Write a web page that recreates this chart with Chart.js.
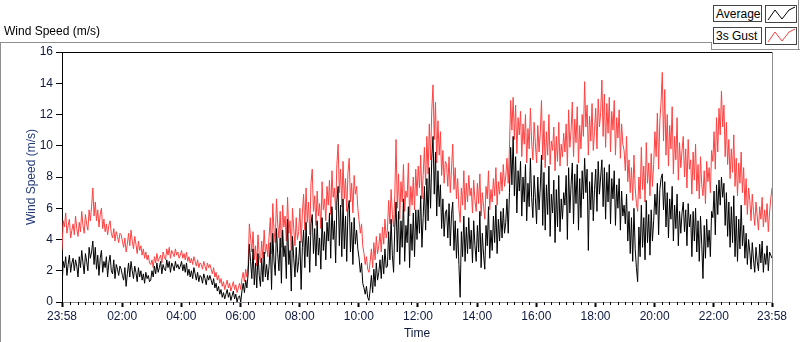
<!DOCTYPE html>
<html>
<head>
<meta charset="utf-8">
<script src="https://cdn.jsdelivr.net/npm/chart.js@4.4.1/dist/chart.umd.min.js"></script>
<style>
  html, body { margin: 0; padding: 0; background: #fff; }
  #wrap { position: relative; width: 800px; height: 342px; overflow: hidden; font-family: "Liberation Sans", Arial, sans-serif; }
  #chart { position: absolute; left: 0; top: 0; }
  .line { position: absolute; background: #8e8e8e; }
  #topLabel { position: absolute; left: 4px; top: 24px; font-size: 12px; color: #000; }
  .lgText { position: absolute; left: 713px; width: 49px; height: 17px; border: 1px solid #444; background: #fff; font-size: 12px; line-height: 16px; padding-left: 2px; box-sizing: border-box; }
  .lgIcon { position: absolute; left: 765px; width: 32px; height: 18px; border: 1px solid #444; background: #fff; box-sizing: border-box; }
</style>
</head>
<body>
<div id="wrap">
  <canvas id="chart" width="800" height="342"></canvas>
  <div class="line" style="left:0;top:42px;width:712px;height:1px;"></div>
  <div class="line" style="left:0;top:42px;width:1px;height:300px;"></div>
  <div class="line" style="left:711px;top:42px;width:1px;height:8px;"></div>
  <div class="line" style="left:711px;top:49px;width:89px;height:1px;"></div>
  <div class="line" style="left:798px;top:0;width:1px;height:50px;"></div>
  <div id="topLabel">Wind Speed (m/s)</div>
  <div class="lgText" style="top:5px;">Average</div>
  <div class="lgIcon" style="top:5px;"><svg width="30" height="16"><polyline points="2,14 9,4 16,13 23,4 29,1" fill="none" stroke="#000" stroke-width="1"/></svg></div>
  <div class="lgText" style="top:27px;">3s Gust</div>
  <div class="lgIcon" style="top:27px;"><svg width="30" height="16"><polyline points="2,14 9,4 16,13 23,4 29,1" fill="none" stroke="#ff4040" stroke-width="1"/></svg></div>
</div>
<script>
// one sample every 2.5 minutes, starting 23:58 (-2 min), one row per hour
const startMinute = -2;
const stepMinutes = 2.5;

const avgSpeed = [
  0.9, 2.6, 2.2, 2.9, 1.7, 2.4, 3.0, 1.9, 2.5, 2.8, 2.0, 2.7, 2.3, 1.6, 2.9, 2.2, 3.3, 2.5, 1.8, 3.1, 2.6, 2.0, 3.5, 2.8,
  3.2, 3.9, 2.4, 3.5, 2.1, 3.0, 1.7, 2.8, 3.3, 1.9, 2.6, 2.2, 2.9, 1.6, 2.5, 3.0, 2.0, 1.8, 2.7, 1.5, 2.4, 2.1, 1.7, 2.3,
  2.1, 1.7, 1.4, 2.2, 1.0, 1.8, 2.5, 1.6, 2.6, 2.0, 1.5, 2.3, 1.9, 1.3, 2.2, 1.6, 2.0, 1.4, 1.8, 1.2, 1.9, 1.5, 1.7, 1.3,
  1.4, 2.0, 1.6, 2.3, 1.8, 2.5, 1.9, 2.2, 2.6, 1.8, 2.4, 2.1, 2.0, 2.7, 2.2, 2.6, 1.9, 2.5, 2.3, 2.0, 2.6, 2.2, 2.4, 2.1,
  2.3, 2.6, 2.0, 2.4, 1.9, 2.5, 1.7, 2.1, 1.6, 2.0, 1.5, 2.2, 1.8, 1.4, 1.9, 1.3, 1.7, 1.6, 1.2, 1.8, 1.5, 1.1, 1.7, 1.4,
  1.7, 1.4, 1.1, 1.5, 0.9, 1.2, 0.7, 1.0, 0.5, 0.8, 0.3, 0.6, 0.2, 0.5, 0.8, 0.3, 0.6, 0.1, 0.4, 0.7, 0.2, 0.5, 0.0, 0.3,
  0.4, 0.0, 0.7, 1.2, 0.6, 1.4, 0.9, 1.8, 3.7, 2.6, 1.5, 3.4, 1.1, 2.5, 0.9, 3.1, 1.7, 1.0, 2.8, 1.3, 3.2, 1.6, 2.4, 1.4,
  2.3, 3.8, 0.8, 4.4, 2.6, 1.7, 4.7, 3.1, 2.0, 4.1, 1.2, 4.6, 2.9, 3.6, 1.5, 5.3, 2.4, 3.3, 0.7, 4.2, 2.8, 1.6, 3.5, 1.9,
  2.6, 3.9, 0.8, 3.5, 4.6, 2.2, 5.1, 2.9, 4.2, 1.9, 5.0, 5.6, 3.1, 4.7, 2.3, 5.2, 3.0, 4.1, 2.1, 5.4, 3.3, 4.5, 2.7, 5.1,
  3.9, 5.7, 2.8, 6.1, 4.0, 5.2, 2.5, 6.4, 7.4, 3.6, 6.2, 2.9, 6.6, 3.4, 5.5, 2.6, 5.9, 6.5, 3.2, 5.1, 2.4, 5.4, 3.7, 4.6,
  3.4, 2.8, 1.9, 2.5, 1.2, 0.9, 0.5, 1.0, 0.3, 0.1, 0.8, 1.7, 0.6, 2.1, 1.0, 2.5, 1.4, 1.9, 2.7, 1.5, 3.0, 1.8, 3.4, 2.2,
  2.3, 4.5, 2.7, 5.3, 3.0, 1.9, 4.8, 6.4, 3.2, 5.8, 2.4, 5.2, 3.5, 6.6, 2.6, 4.9, 3.8, 6.1, 2.2, 5.0, 3.3, 5.7, 2.9, 5.9,
  4.0, 5.9, 4.4, 6.8, 3.5, 5.4, 7.4, 4.6, 7.9, 5.2, 8.6, 6.0, 9.2, 10.6, 6.9, 9.6, 5.5, 8.4, 6.1, 7.5, 4.7, 6.6, 4.2, 5.7,
  5.9, 4.1, 6.3, 3.6, 5.6, 6.4, 3.3, 5.2, 2.8, 4.7, 2.4, 0.3, 4.5, 2.9, 5.5, 2.6, 4.8, 3.1, 5.4, 3.4, 4.6, 2.5, 5.2, 3.6,
  2.6, 4.9, 3.2, 5.8, 2.2, 4.4, 3.0, 2.1, 4.9, 3.6, 6.1, 2.8, 4.6, 3.3, 5.5, 3.8, 6.2, 3.1, 5.3, 3.9, 5.8, 4.1, 6.0, 4.4,
  5.1, 6.6, 4.4, 7.0, 9.9, 7.5, 10.6, 6.8, 9.3, 5.7, 8.4, 7.1, 9.0, 5.5, 8.0, 6.4, 8.8, 5.2, 7.6, 6.1, 9.2, 6.7, 5.4, 8.1,
  6.7, 5.0, 8.0, 5.9, 7.3, 9.4, 4.9, 8.3, 4.6, 7.5, 5.6, 8.7, 4.2, 6.9, 5.7, 7.8, 3.8, 7.2, 4.8, 8.1, 4.5, 6.6, 5.3, 7.0,
  6.2, 8.1, 4.0, 8.6, 5.7, 7.5, 8.9, 5.0, 8.2, 6.3, 8.8, 4.6, 7.9, 5.4, 8.4, 6.6, 9.2, 7.0, 8.5, 3.3, 7.7, 5.9, 8.3, 5.2,
  7.2, 8.5, 5.8, 9.0, 6.9, 8.0, 9.1, 6.1, 8.6, 5.3, 8.3, 6.4, 8.8, 5.0, 7.9, 6.6, 8.4, 4.9, 7.5, 6.0, 7.9, 4.6, 7.1, 5.5,
  6.2, 5.0, 6.9, 3.9, 5.8, 3.1, 5.4, 2.6, 6.0, 3.4, 2.2, 1.3, 4.8, 2.9, 6.2, 3.5, 5.4, 2.7, 6.5, 3.8, 5.6, 3.0, 5.9, 3.9,
  5.2, 6.9, 5.6, 7.6, 4.3, 7.2, 7.9, 8.2, 5.9, 7.7, 4.8, 7.0, 4.1, 6.6, 5.3, 7.4, 3.9, 6.2, 4.7, 6.9, 3.6, 5.8, 4.4, 5.7,
  6.4, 4.5, 5.9, 3.6, 6.3, 4.8, 5.6, 2.9, 5.8, 3.9, 6.0, 3.2, 5.2, 2.6, 5.5, 3.7, 1.5, 4.9, 2.8, 5.3, 3.5, 4.6, 2.9, 5.8,
  5.4, 7.1, 4.3, 7.5, 5.6, 7.8, 6.2, 8.0, 6.7, 7.6, 4.9, 7.0, 4.2, 6.4, 3.5, 6.1, 3.8, 6.8, 2.9, 5.5, 2.6, 5.3, 3.4, 6.2,
  3.6, 4.9, 2.8, 4.4, 2.4, 4.0, 3.2, 2.1, 3.8, 2.7, 1.9, 3.5, 2.6, 2.0, 3.7, 2.5, 3.9, 1.9, 3.1, 2.4, 3.6, 2.0, 3.2, 3.0, 2.8
];

const gustSpeed = [
  3.3, 5.2, 4.8, 5.7, 4.4, 4.9, 5.3, 4.1, 4.6, 5.0, 4.3, 5.5, 4.7, 4.2, 5.1, 4.5, 5.8, 4.9, 4.4, 5.6, 5.0, 4.6, 5.9, 5.2,
  6.1, 7.3, 5.5, 6.4, 5.2, 5.9, 4.8, 5.6, 6.0, 4.7, 5.3, 4.5, 5.0, 4.3, 4.9, 5.2, 4.4, 4.1, 4.7, 3.9, 4.5, 4.2, 3.8, 4.4,
  4.3, 3.9, 3.5, 4.1, 3.2, 3.7, 4.4, 3.6, 4.6, 3.9, 3.4, 4.2, 3.7, 3.1, 3.9, 3.3, 3.6, 3.0, 3.4, 2.8, 3.2, 2.7, 3.0, 2.5,
  2.4, 2.7, 2.2, 2.9, 2.5, 3.1, 2.6, 2.8, 3.0, 2.5, 3.2, 2.9, 2.7, 3.4, 3.0, 3.5, 2.8, 3.3, 3.1, 2.9, 3.4, 3.0, 3.2, 2.8,
  3.0, 3.3, 2.8, 3.1, 2.7, 3.2, 2.6, 2.9, 2.5, 2.8, 2.4, 2.9, 2.6, 2.3, 2.7, 2.2, 2.5, 2.4, 2.1, 2.6, 2.3, 2.0, 2.5, 2.2,
  2.4, 2.1, 1.8, 2.2, 1.6, 1.9, 1.4, 1.7, 1.2, 1.5, 1.0, 1.3, 0.8, 1.1, 1.4, 0.9, 1.2, 0.7, 1.0, 1.3, 0.8, 1.1, 0.6, 0.9,
  1.2, 0.8, 1.5, 1.9, 1.3, 2.1, 1.6, 2.4, 5.0, 4.1, 3.2, 4.5, 2.7, 3.6, 2.3, 4.3, 3.0, 2.5, 3.9, 2.8, 4.6, 3.1, 3.7, 2.9,
  4.2, 5.4, 3.1, 6.3, 4.6, 3.8, 6.6, 5.0, 4.1, 5.8, 3.5, 6.2, 4.8, 5.5, 3.9, 6.7, 4.4, 5.2, 3.3, 6.0, 4.7, 3.6, 5.4, 4.0,
  4.5, 6.0, 3.8, 5.7, 6.9, 4.6, 7.3, 5.1, 6.4, 4.3, 7.6, 8.5, 5.8, 6.8, 4.9, 7.1, 5.5, 6.3, 4.7, 7.7, 5.9, 6.6, 5.2, 7.4,
  6.2, 7.8, 5.6, 8.4, 6.7, 7.3, 5.9, 8.8, 10.1, 7.0, 8.5, 6.1, 9.0, 6.6, 7.9, 5.8, 8.3, 9.2, 6.4, 7.6, 5.7, 8.1, 6.9, 7.4,
  6.0, 5.2, 4.4, 5.0, 3.6, 3.1, 2.4, 2.9, 2.1, 1.9, 2.6, 3.4, 2.2, 3.8, 2.7, 4.2, 3.1, 3.6, 4.4, 3.2, 4.8, 3.7, 5.3, 4.1,
  4.6, 6.5, 5.0, 7.2, 5.6, 4.8, 6.9, 10.4, 6.0, 8.2, 5.3, 7.7, 6.4, 8.8, 5.8, 7.1, 6.7, 8.9, 5.5, 7.4, 6.2, 8.0, 5.9, 8.5,
  6.8, 8.7, 7.3, 9.4, 6.6, 8.1, 9.9, 7.5, 10.6, 8.2, 11.4, 9.1, 12.3, 13.9, 10.4, 12.8, 8.9, 11.6, 9.4, 10.9, 8.1, 9.7, 7.6, 9.0,
  8.8, 7.4, 9.3, 7.0, 8.5, 10.1, 7.2, 8.6, 6.6, 7.9, 6.0, 5.1, 7.3, 6.2, 8.4, 5.9, 7.6, 6.4, 8.1, 6.8, 7.3, 5.7, 7.8, 6.5,
  5.8, 7.6, 6.3, 8.2, 5.5, 7.0, 6.1, 5.3, 7.4, 6.6, 8.4, 5.9, 7.2, 6.4, 7.9, 6.8, 8.6, 6.2, 7.7, 6.9, 8.3, 7.1, 8.8, 7.4,
  8.0, 9.2, 7.6, 9.8, 12.9, 11.0, 13.1, 10.4, 12.6, 9.5, 11.8, 10.7, 12.2, 9.3, 11.4, 10.1, 12.0, 8.9, 11.1, 9.8, 12.4, 10.3, 9.1, 11.5,
  10.2, 8.9, 11.3, 9.6, 10.8, 12.9, 9.1, 11.6, 8.6, 10.9, 9.4, 12.0, 8.8, 10.3, 9.7, 11.2, 8.4, 10.6, 9.0, 11.5, 8.7, 10.1, 9.3, 10.8,
  9.6, 11.4, 8.7, 12.3, 9.9, 11.0, 12.8, 9.3, 11.7, 10.2, 12.5, 8.9, 11.3, 9.8, 12.0, 10.6, 14.1, 11.2, 12.6, 9.4, 11.9, 10.3, 12.7, 9.7,
  10.9, 12.4, 9.8, 13.0, 11.2, 12.1, 14.2, 10.6, 13.3, 9.9, 12.7, 10.8, 13.1, 9.6, 12.2, 11.0, 12.9, 9.4, 11.8, 10.5, 12.3, 9.2, 11.4, 10.1,
  9.7, 8.4, 10.6, 7.7, 9.1, 7.0, 8.6, 6.5, 9.4, 7.3, 6.3, 5.8, 8.0, 6.6, 9.9, 7.2, 8.7, 6.4, 10.2, 7.6, 8.9, 6.8, 9.5, 7.4,
  8.8, 10.9, 9.3, 12.1, 8.5, 11.6, 12.8, 14.7, 10.3, 13.6, 9.4, 12.0, 8.7, 11.3, 9.8, 12.5, 8.2, 10.6, 9.1, 11.8, 7.8, 10.2, 8.6, 9.7,
  10.6, 8.0, 9.8, 7.3, 10.4, 8.5, 9.1, 6.9, 9.6, 7.8, 10.1, 7.1, 8.8, 6.6, 9.3, 7.5, 6.8, 8.4, 6.3, 9.0, 7.7, 8.6, 7.0, 9.7,
  9.0, 10.9, 8.5, 11.8, 9.6, 12.4, 10.7, 13.5, 11.2, 12.6, 9.3, 11.5, 8.8, 10.4, 7.9, 9.8, 8.3, 10.7, 7.4, 9.2, 6.8, 8.9, 7.6, 9.6,
  7.0, 8.6, 6.2, 7.9, 5.6, 7.3, 6.5, 5.2, 6.9, 5.8, 4.9, 6.4, 5.5, 4.6, 6.1, 5.3, 6.7, 4.8, 5.9, 5.1, 6.3, 4.5, 5.7, 6.6, 7.3
];

const tickMinutes = [-2, 120, 240, 360, 480, 600, 720, 840, 960, 1080, 1200, 1320, 1438];
const tickLabels = ['23:58', '02:00', '04:00', '06:00', '08:00', '10:00', '12:00', '14:00', '16:00', '18:00', '20:00', '22:00', '23:58'];

const toPoints = arr => arr.map((v, i) => ({ x: startMinute + i * stepMinutes, y: v }));

// top + right frame of the plot area, and minor ticks on the time axis
const framePlugin = {
  id: 'frame',
  afterDraw(chart) {
    const { ctx, chartArea: a, scales } = chart;
    ctx.save();
    ctx.lineWidth = 1;
    ctx.strokeStyle = '#000';
    ctx.beginPath();
    ctx.moveTo(a.left, a.top + 0.5);
    ctx.lineTo(a.right, a.top + 0.5);
    ctx.stroke();
    ctx.strokeStyle = '#8e8e8e';
    ctx.beginPath();
    ctx.moveTo(a.right + 0.5, a.top);
    ctx.lineTo(a.right + 0.5, a.bottom);
    ctx.stroke();
    ctx.strokeStyle = '#000';
    ctx.beginPath();
    for (let m = 15; m < 1438; m += 15) {
      if (m % 120 === 0) continue;
      const x = Math.round(scales.x.getPixelForValue(m)) + 0.5;
      ctx.moveTo(x, a.bottom);
      ctx.lineTo(x, a.bottom + 3);
    }
    ctx.stroke();
    ctx.restore();
  }
};

new Chart(document.getElementById('chart'), {
  type: 'line',
  data: {
    datasets: [
      { label: 'Average', data: toPoints(avgSpeed), borderColor: '#000000', borderWidth: 1, pointRadius: 0, tension: 0 },
      { label: '3s Gust', data: toPoints(gustSpeed), borderColor: '#ff4040', borderWidth: 1, pointRadius: 0, tension: 0 }
    ]
  },
  options: {
    responsive: false,
    animation: false,
    layout: { padding: { left: 0, top: 52, right: 28, bottom: 0 } },
    plugins: { legend: { display: false }, tooltip: { enabled: false } },
    scales: {
      x: {
        type: 'linear',
        min: -2,
        max: 1438,
        afterBuildTicks: scale => { scale.ticks = tickMinutes.map(v => ({ value: v })); },
        afterFit: scale => { scale.height = 40; },
        ticks: {
          autoSkip: false,
          maxRotation: 0,
          padding: 2,
          color: '#101a40',
          font: { family: '"Liberation Sans", Arial, sans-serif', size: 12 },
          callback: (v, i) => tickLabels[i]
        },
        grid: { drawOnChartArea: false, tickLength: 5, tickColor: '#000', tickWidth: 2 },
        border: { color: '#8e8e8e' },
        title: { display: true, text: 'Time', color: '#101a40', padding: { top: 0, bottom: 1 },
                 font: { family: '"Liberation Sans", Arial, sans-serif', size: 12 } }
      },
      y: {
        min: 0,
        max: 16,
        afterFit: scale => { scale.width = 62; },
        ticks: {
          stepSize: 2,
          padding: 3,
          color: '#101a40',
          font: { family: '"Liberation Sans", Arial, sans-serif', size: 12 }
        },
        grid: { drawOnChartArea: false, tickLength: 6, tickColor: '#000' },
        border: { color: '#000' },
        title: { display: true, text: 'Wind Speed (m/s)', color: '#243a7a', padding: { top: 24, bottom: 0 },
                 font: { family: '"Liberation Sans", Arial, sans-serif', size: 12 } }
      }
    }
  },
  plugins: [framePlugin]
});
</script>
</body>
</html>
